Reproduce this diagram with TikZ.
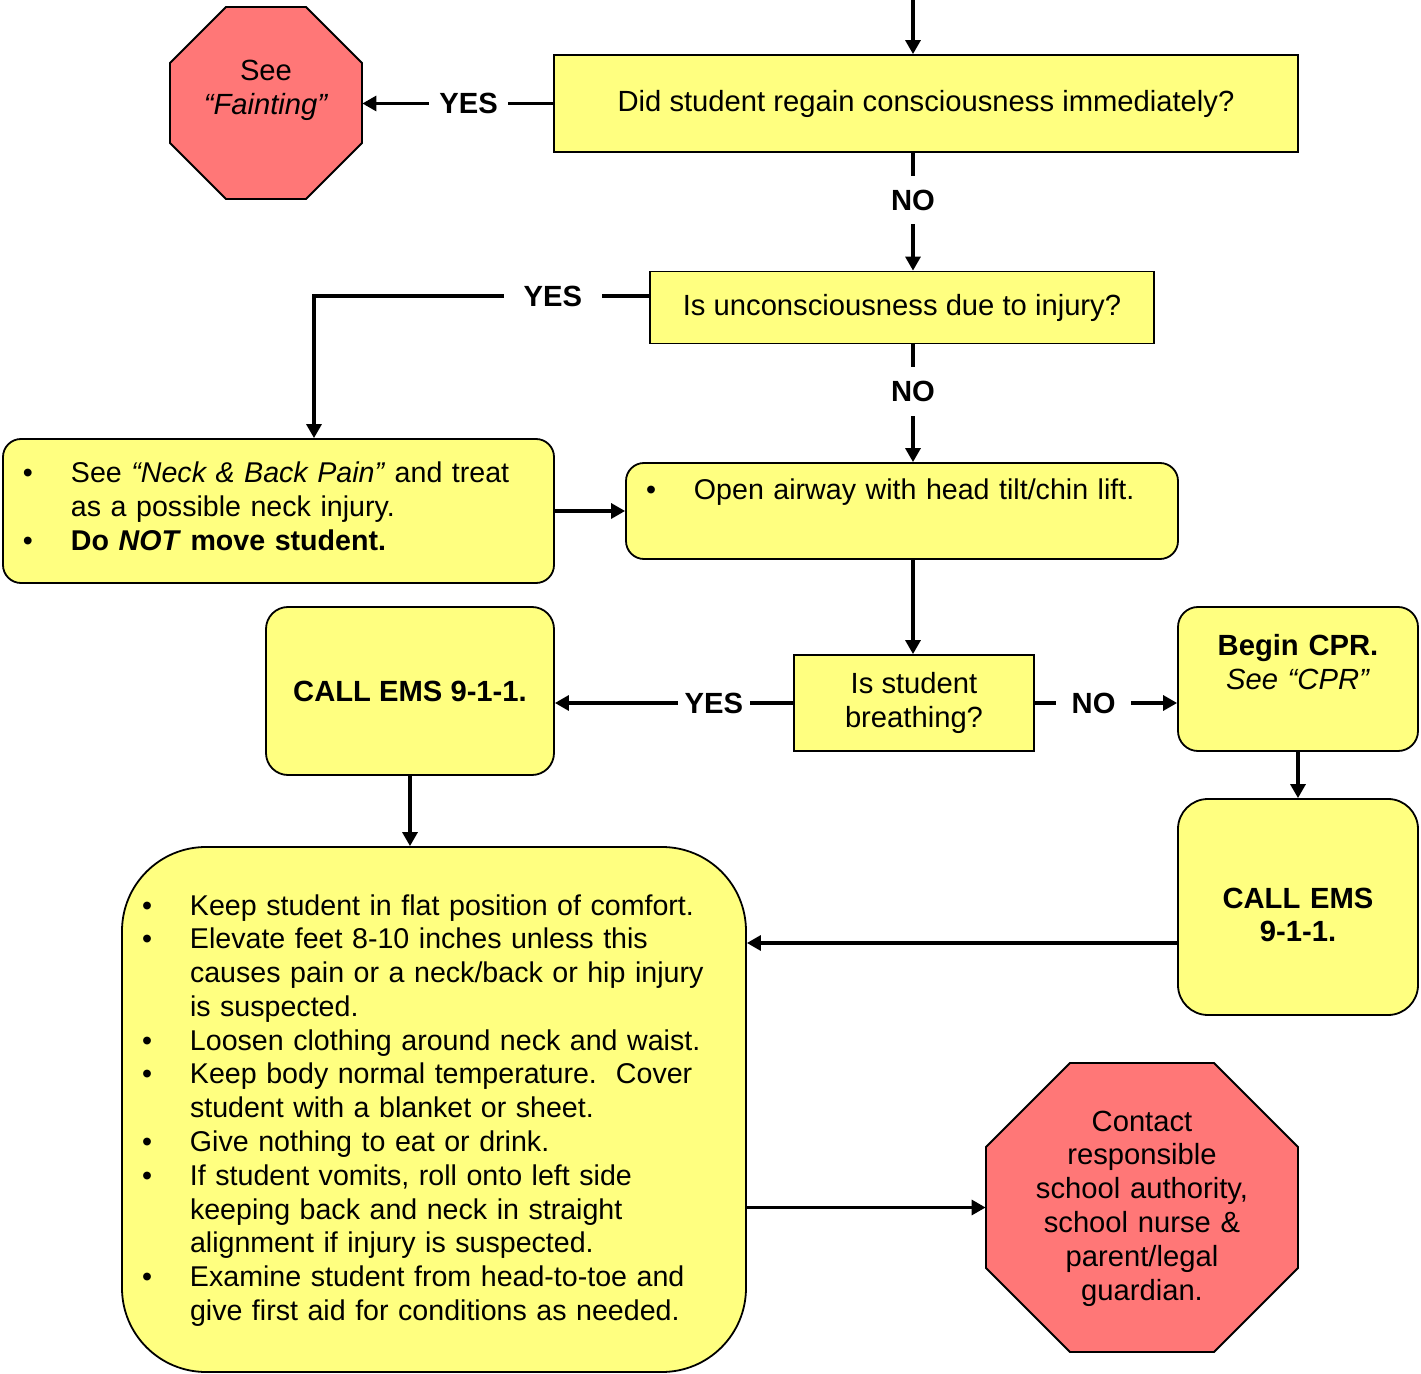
\documentclass[tikz,border=0pt]{standalone}
\usepackage{fontspec}
\setmainfont{Liberation Sans}
\usetikzlibrary{arrows.meta}
\tikzset{>={Triangle[width=7.5pt,length=7pt]}}
\definecolor{boxyellow}{HTML}{FFFF80}
\definecolor{stopred}{HTML}{FF7777}
\newcommand{\bitem}[1]{\hangindent=24pt\hangafter=1\makebox[24pt][l]{\textbullet}#1\par}

\begin{document}
\begin{tikzpicture}[x=0.5pt,y=-0.5pt,font=\fontsize{14.6}{16.9}\selectfont]
% Define styles
\tikzstyle{question} = [rectangle, draw, fill=boxyellow, line width=0.9pt, align=center, inner sep=0pt]
\tikzstyle{action} = [rectangle, rounded corners, draw, fill=boxyellow, line width=0.9pt, inner sep=0pt]
\tikzstyle{listbox} = [action, align=left, inner xsep=10pt, font=\fontsize{14.3}{16.9}\selectfont]
\tikzstyle{stop} = [draw, fill=stopred, line width=0.9pt]
\tikzstyle{stoptext} = [inner sep=0pt, align=center]
\tikzstyle{conn} = [line width=1.6pt]
\tikzstyle{answer} = [fill=white, inner sep=0pt, font=\fontsize{14.6}{16.9}\selectfont\bfseries]
\useasboundingbox (0,0) rectangle (1421,1374);
% Stop signs
\draw[stop] (226,7) -- (306,7) -- (362,63) -- (362,143) -- (306,199) -- (226,199) -- (170,143) -- (170,63) -- cycle;
\draw[stop] (1070,1063) -- (1214,1063) -- (1298,1147) -- (1298,1268) -- (1214,1352) -- (1070,1352) -- (986,1268) -- (986,1147) -- cycle;
% Define nodes
\coordinate (top) at (913,0);
\coordinate (bend) at (314,296);
\node[question, minimum width=372pt, minimum height=48.5pt] (regain) at (926,103.5) {Did student regain consciousness immediately?};
\node[stoptext, text width=96pt, text height=37pt, text depth=59pt] (faint) at (266,103) {See\\\textit{“Fainting”}};
\node[question, minimum width=252pt, minimum height=36pt] (injury) at (902,307.5) {Is unconsciousness due to injury?};
\node[listbox, rounded corners=9pt, text width=255.5pt, text height=22pt, text depth=50pt] (neck) at (278.5,511) {%
\bitem{See \textit{“Neck \& Back Pain”} and treat\newline as a possible neck injury.}%
\bitem{\textbf{Do \textit{NOT} move student.}}};
\node[listbox, rounded corners=9pt, text width=256pt, text height=18.5pt, text depth=29.5pt] (airway) at (902,511) {\bitem{Open airway with head tilt/chin lift.}};
\node[question, minimum width=120pt, minimum height=48pt] (breath) at (914,703) {Is student\\breathing?};
\node[action, rounded corners=11pt, minimum width=144pt, minimum height=84pt] (ems1) at (410,691) {\textbf{CALL EMS 9-1-1.}};
\node[action, rounded corners=10pt, align=center, text width=120pt, text height=24.5pt, text depth=47.5pt] (cpr) at (1298,679) {\textbf{Begin CPR.}\\\textit{See “CPR”}};
\node[action, rounded corners=15pt, align=center, text width=120pt, text height=54.5pt, text depth=53.5pt] (ems2) at (1298,907) {{\bfseries CALL EMS\\9-1-1.}};
\node[listbox, rounded corners=42pt, text width=292pt, text height=34pt, text depth=228.5pt] (care) at (434,1109.5) {%
\bitem{Keep student in flat position of comfort.}%
\bitem{Elevate feet 8-10 inches unless this\newline causes pain or a neck/back or hip injury\newline is suspected.}%
\bitem{Loosen clothing around neck and waist.}%
\bitem{Keep body normal temperature.\ \ Cover\newline student with a blanket or sheet.}%
\bitem{Give nothing to eat or drink.}%
\bitem{If student vomits, roll onto left side\newline keeping back and neck in straight\newline alignment if injury is suspected.}%
\bitem{Examine student from head-to-toe and\newline give first aid for conditions as needed.}};
\node[stoptext, text width=156pt, text height=34pt, text depth=110.5pt] (contact) at (1142,1207.5) {Contact\\responsible\\school authority,\\school nurse \&\\parent/legal\\guardian.};
% Connect the nodes
\draw[conn,->] (top) -- (top |- regain.north);
\draw[conn,->] (regain.west) -- node[answer, pos=0.443, inner xsep=5pt] (yes1) {YES} (regain.west -| faint.east);
\draw[conn,->] (top |- regain.south) -- node[answer, pos=0.4, inner ysep=7pt] (no1) {NO} (top |- injury.north);
\draw[conn,->] ([yshift=5.75pt]injury.west) -- node[answer, pos=0.287, inner xsep=10pt] (yes2) {YES} (bend) -- (bend |- neck.north);
\draw[conn,->] (top |- injury.south) -- node[answer, pos=0.4, inner ysep=7pt] (no2) {NO} (top |- airway.north);
\draw[conn,->] (neck.east) -- (airway.west);
\draw[conn,->] (top |- airway.south) -- (top |- breath.north);
\draw[conn,->] (breath.west) -- node[answer, pos=0.333, inner xsep=3.5pt] (yes3) {YES} (breath.west -| ems1.east);
\draw[conn,->] (breath.east) -- node[answer, pos=0.413, inner xsep=7.75pt] (no3) {NO} (breath.east -| cpr.west);
\draw[conn,->] (cpr.south) -- (ems2.north);
\draw[conn,->] (ems1.south) -- (ems1.south |- care.north);
\draw[conn,->] ([yshift=-18pt]ems2.west) -- ([yshift=-18pt]ems2.west -| care.east);
\draw[conn,->] (care.east |- contact.west) -- (contact.west);
\end{tikzpicture}
\end{document}
